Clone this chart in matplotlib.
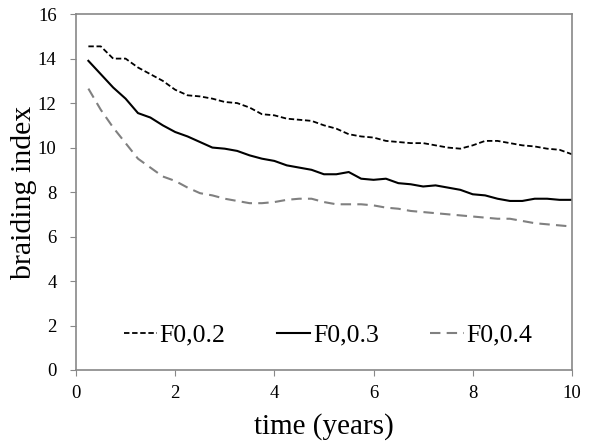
import matplotlib
matplotlib.use("Agg")
import matplotlib.pyplot as plt

# time axis, sampled every quarter year
years = [0.25 * (i + 1) for i in range(40)]

f02 = [14.55, 14.55, 14.0, 14.0, 13.6, 13.3, 13.0, 12.6, 12.35, 12.3,
       12.2, 12.05, 12.0, 11.8, 11.5, 11.45, 11.3, 11.25, 11.2, 11.0,
       10.85, 10.6, 10.5, 10.45, 10.3, 10.25, 10.2, 10.2, 10.1, 10.0,
       9.95, 10.1, 10.3, 10.3, 10.2, 10.1, 10.05, 9.95, 9.9, 9.7]

f03 = [13.9, 13.3, 12.7, 12.2, 11.55, 11.35, 11.0, 10.7, 10.5, 10.25,
       10.0, 9.95, 9.85, 9.65, 9.5, 9.4, 9.2, 9.1, 9.0, 8.8,
       8.8, 8.9, 8.6, 8.55, 8.6, 8.4, 8.35, 8.25, 8.3, 8.2,
       8.1, 7.9, 7.85, 7.7, 7.6, 7.6, 7.7, 7.7, 7.65, 7.65]

f04 = [12.65, 11.7, 10.9, 10.2, 9.5, 9.1, 8.7, 8.5, 8.2, 7.95,
       7.85, 7.7, 7.6, 7.5, 7.5, 7.55, 7.65, 7.7, 7.7, 7.55,
       7.45, 7.45, 7.45, 7.4, 7.3, 7.25, 7.15, 7.1, 7.05, 7.0,
       6.95, 6.9, 6.85, 6.8, 6.8, 6.7, 6.6, 6.55, 6.5, 6.45]

labels = ["F0,0.2", "F0,0.3", "F0,0.4"]

plt.rcParams["font.family"] = ["Liberation Serif", "DejaVu Serif"]

fig = plt.figure(figsize=(5.89, 4.44), dpi=100)
ax = fig.add_axes([0.129, 0.1667, 0.842, 0.8015])

ax.plot(years, f02, color="black", lw=1.3, dashes=(3, 1.5), label=labels[0])
ax.plot(years, f03, color="black", lw=1.5, label=labels[1])
ax.plot(years, f04, color="#808080", lw=1.5, dashes=(5, 3), label=labels[2])

ax.set_xlim(0, 10)
ax.set_ylim(0, 16)
ax.set_xticks(range(0, 11, 2))
ax.set_yticks(range(0, 17, 2))
ax.tick_params(labelsize=13.5, direction="out", length=4, color="#888888")
ax.tick_params(axis="y", pad=10)
ax.tick_params(axis="x", pad=7)

for side in ["left", "right", "top", "bottom"]:
    ax.spines[side].set_color("#888888")
    ax.spines[side].set_linewidth(1.2)

ax.set_xlabel("time (years)", fontsize=21, labelpad=8)
ax.set_ylabel("braiding index", fontsize=21.5, labelpad=0.5)

ax.legend(loc="center", bbox_to_anchor=(0.508, 0.098), ncol=3, frameon=False,
          fontsize=18.5, handlelength=1.3, handletextpad=0.1, columnspacing=2.0)

fig.savefig("out.png", dpi=100)
